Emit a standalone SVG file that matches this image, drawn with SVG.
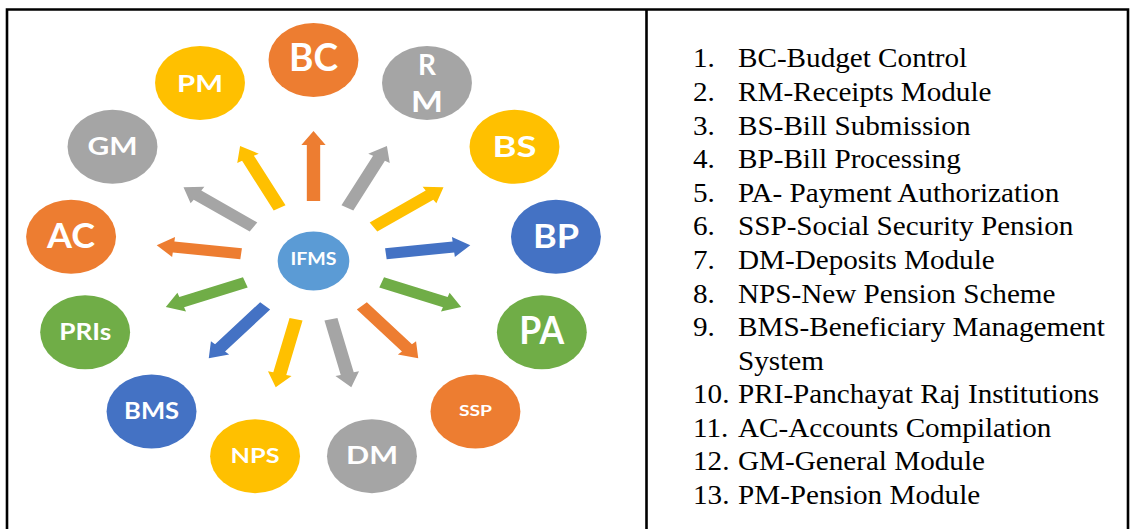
<svg xmlns="http://www.w3.org/2000/svg" xmlns:xlink="http://www.w3.org/1999/xlink" width="1130" height="529" viewBox="0 0 1130 529">
  <style>
    .o { fill: #ED7D31; }
    .g { fill: #A5A5A5; }
    .y { fill: #FFC000; }
    .b { fill: #4472C4; }
    .gr { fill: #70AD47; }
    .hub { fill: #5B9BD5; }
    .lbl { font-family: Lato, "Open Sans", "Liberation Sans", sans-serif; font-weight: 700; fill: #ffffff; text-anchor: middle; }
    .item { font-family: "Liberation Serif", "Times New Roman", serif; font-size: 27px; fill: #000000; }
    .frame { fill: none; stroke: #000000; stroke-width: 2.6; }
  </style>
  <defs>
    <!-- block arrow pointing along +x, from the hub ring out to the module ring -->
    <polygon id="arr" points="60,-5.5 116,-5.5 116,-10 130,0 116,10 116,5.5 60,5.5"/>
  </defs>

  <rect width="1130" height="529" fill="#ffffff"/>
  <path class="frame" d="M7 529 V9.5 H1128 V529 M646.5 9.5 V529"/>

  <!-- radial layout: 13 modules every 27.69 degrees around IFMS, widened horizontally -->
  <g transform="translate(313.5,261) scale(1.215,1)">
    <g id="connectors">
      <use href="#arr" class="o" transform="rotate(-90)"/>
      <use href="#arr" class="g" transform="rotate(-62.3077)"/>
      <use href="#arr" class="y" transform="rotate(-34.6154)"/>
      <use href="#arr" class="b" transform="rotate(-6.9231)"/>
      <use href="#arr" class="gr" transform="rotate(20.7692)"/>
      <use href="#arr" class="o" transform="rotate(48.4615)"/>
      <use href="#arr" class="g" transform="rotate(76.1538)"/>
      <use href="#arr" class="y" transform="rotate(103.8462)"/>
      <use href="#arr" class="b" transform="rotate(131.5385)"/>
      <use href="#arr" class="gr" transform="rotate(159.2308)"/>
      <use href="#arr" class="o" transform="rotate(186.9231)"/>
      <use href="#arr" class="g" transform="rotate(214.6154)"/>
      <use href="#arr" class="y" transform="rotate(242.3077)"/>
    </g>

    <g id="node-ifms">
      <circle r="29.5" class="hub"/>
      <text class="lbl" y="4" font-size="17" textLength="37.9" lengthAdjust="spacingAndGlyphs">IFMS</text>
    </g>

    <g id="node-bc" transform="rotate(-90) translate(201,0) rotate(90)">
      <circle r="37" class="o"/>
      <text class="lbl" y="11" font-size="39" textLength="40.3" lengthAdjust="spacingAndGlyphs">BC</text>
    </g>
    <g id="node-rm" transform="rotate(-62.3077) translate(201,0) rotate(62.3077)">
      <circle r="37" class="g"/>
      <text class="lbl" y="-8" font-size="28" textLength="14.8" lengthAdjust="spacingAndGlyphs">R</text>
      <text class="lbl" y="28.5" font-size="29" textLength="26.3" lengthAdjust="spacingAndGlyphs">M</text>
    </g>
    <g id="node-bs" transform="rotate(-34.6154) translate(201,0) rotate(34.6154)">
      <circle r="37" class="y"/>
      <text class="lbl" y="10" font-size="28" textLength="36.2" lengthAdjust="spacingAndGlyphs">BS</text>
    </g>
    <g id="node-bp" transform="rotate(-6.9231) translate(201,0) rotate(6.9231)">
      <circle r="37" class="b"/>
      <text class="lbl" y="11" font-size="33" textLength="37.9" lengthAdjust="spacingAndGlyphs">BP</text>
    </g>
    <g id="node-pa" transform="rotate(20.7692) translate(201,0) rotate(-20.7692)">
      <circle r="37" class="gr"/>
      <text class="lbl" y="12" font-size="37.5" textLength="37" lengthAdjust="spacingAndGlyphs">PA</text>
    </g>
    <g id="node-ssp" transform="rotate(48.4615) translate(201,0) rotate(-48.4615)">
      <circle r="37" class="o"/>
      <text class="lbl" y="5" font-size="15.5" textLength="27.2" lengthAdjust="spacingAndGlyphs">SSP</text>
    </g>
    <g id="node-dm" transform="rotate(76.1538) translate(201,0) rotate(-76.1538)">
      <circle r="37" class="g"/>
      <text class="lbl" y="8" font-size="25" textLength="42.8" lengthAdjust="spacingAndGlyphs">DM</text>
    </g>
    <g id="node-nps" transform="rotate(103.8462) translate(201,0) rotate(-103.8462)">
      <circle r="37" class="y"/>
      <text class="lbl" y="7" font-size="21" textLength="40.3" lengthAdjust="spacingAndGlyphs">NPS</text>
    </g>
    <g id="node-bms" transform="rotate(131.5385) translate(201,0) rotate(-131.5385)">
      <circle r="37" class="b"/>
      <text class="lbl" y="8" font-size="23.5" textLength="45.3" lengthAdjust="spacingAndGlyphs">BMS</text>
    </g>
    <g id="node-pris" transform="rotate(159.2308) translate(201,0) rotate(-159.2308)">
      <circle r="37" class="gr"/>
      <text class="lbl" y="8" font-size="22" textLength="42.8" lengthAdjust="spacingAndGlyphs">PRIs</text>
    </g>
    <g id="node-ac" transform="rotate(186.9231) translate(201,0) rotate(-186.9231)">
      <circle r="37" class="o"/>
      <text class="lbl" y="11" font-size="35" textLength="39.5" lengthAdjust="spacingAndGlyphs">AC</text>
    </g>
    <g id="node-gm" transform="rotate(214.6154) translate(201,0) rotate(-214.6154)">
      <circle r="37" class="g"/>
      <text class="lbl" y="8" font-size="24" textLength="41.2" lengthAdjust="spacingAndGlyphs">GM</text>
    </g>
    <g id="node-pm" transform="rotate(242.3077) translate(201,0) rotate(-242.3077)">
      <circle r="37" class="y"/>
      <text class="lbl" y="9" font-size="23" textLength="37.9" lengthAdjust="spacingAndGlyphs">PM</text>
    </g>
  </g>

  <!-- numbered legend -->
  <g id="legend" transform="translate(693,0) scale(1.08,1)">
    <text class="item" y="67.5"><tspan x="0">1.</tspan><tspan x="41.7">BC-Budget Control</tspan></text>
    <text class="item" y="101.1"><tspan x="0">2.</tspan><tspan x="41.7">RM-Receipts Module</tspan></text>
    <text class="item" y="134.7"><tspan x="0">3.</tspan><tspan x="41.7">BS-Bill Submission</tspan></text>
    <text class="item" y="168.2"><tspan x="0">4.</tspan><tspan x="41.7">BP-Bill Processing</tspan></text>
    <text class="item" y="201.8"><tspan x="0">5.</tspan><tspan x="41.7">PA- Payment Authorization</tspan></text>
    <text class="item" y="235.4"><tspan x="0">6.</tspan><tspan x="41.7">SSP-Social Security Pension</tspan></text>
    <text class="item" y="269"><tspan x="0">7.</tspan><tspan x="41.7">DM-Deposits Module</tspan></text>
    <text class="item" y="302.6"><tspan x="0">8.</tspan><tspan x="41.7">NPS-New Pension Scheme</tspan></text>
    <text class="item" y="336.1"><tspan x="0">9.</tspan><tspan x="41.7">BMS-Beneficiary Management</tspan></text>
    <text class="item" y="369.7" x="41.7">System</text>
    <text class="item" y="403.3"><tspan x="0">10.</tspan><tspan x="41.7">PRI-Panchayat Raj Institutions</tspan></text>
    <text class="item" y="436.9"><tspan x="0">11.</tspan><tspan x="41.7">AC-Accounts Compilation</tspan></text>
    <text class="item" y="470.5"><tspan x="0">12.</tspan><tspan x="41.7">GM-General Module</tspan></text>
    <text class="item" y="504"><tspan x="0">13.</tspan><tspan x="41.7">PM-Pension Module</tspan></text>
  </g>
</svg>
